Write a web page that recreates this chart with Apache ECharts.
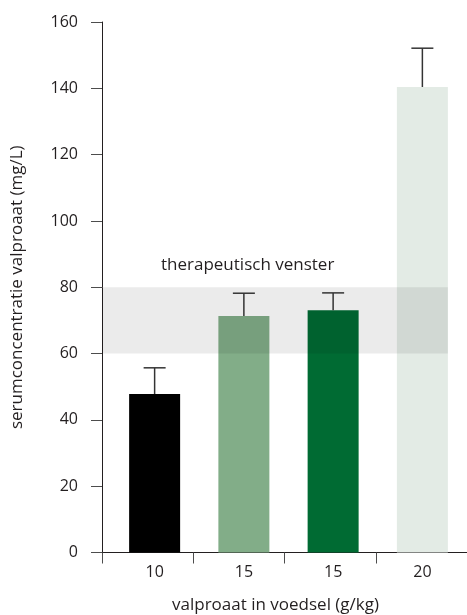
<!DOCTYPE html>
<html>
<head>
<meta charset="utf-8">
<script src="https://cdn.jsdelivr.net/npm/echarts@6/dist/echarts.min.js"></script>
<style>
  html, body { margin: 0; padding: 0; background: #ffffff; }
  #chart { width: 467px; height: 615px; }
</style>
</head>
<body>
<div id="chart"></div>
<script>
// Valproate dose groups (g/kg in food) and serum concentrations (mg/L)
const categories = ['10', '15', '15', '20'];
const meanValues = [47.8, 71.3, 73.1, 140.4];
const upperValues = [55.7, 78.2, 78.3, 152.1];
const barColors = ['#000000', '#82ad88', '#006b33', '#e3ebe5'];

// Therapeutic window (mg/L)
const windowLow = 60;
const windowHigh = 80;
const windowLabel = 'therapeutisch venster';

// Value axis
const yMin = 0;
const yMax = 160;
const yStep = 20;

const xAxisName = 'valproaat in voedsel (g/kg)';
const yAxisName = 'serumconcentratie valproaat (mg/L)';

// Layout
const AXIS_LEFT = 102;
const BARS_LEFT = 110;
const TOP = 22;
const BOTTOM = 62.5;
const BAR_WIDTH = 51;
const CAP_HALF = 11;

const textColor = '#231f20';
const fontFamily = "'Open Sans', sans-serif";

const chart = echarts.init(document.getElementById('chart'), null, { renderer: 'canvas' });

function renderBand(params, api) {
  const yTop = api.coord([0, api.value(2)])[1];
  const yBottom = api.coord([0, api.value(1)])[1];
  const xRight = api.coord([api.value(0), 0])[0] + BAR_WIDTH / 2;
  const xLeft = AXIS_LEFT;
  return {
    type: 'group',
    children: [
      {
        type: 'rect',
        shape: { x: xLeft, y: yTop, width: xRight - xLeft, height: yBottom - yTop },
        style: { fill: 'rgba(0,0,0,0.078)' }
      },
      {
        type: 'text',
        x: xLeft + 59,
        y: yTop - 22,
        style: {
          text: windowLabel,
          fill: textColor,
          fontSize: 17,
          fontFamily: fontFamily,
          align: 'left',
          verticalAlign: 'middle'
        }
      }
    ]
  };
}

function renderErrorBar(params, api) {
  const idx = api.value(0);
  const base = api.coord([idx, api.value(1)]);
  const top = api.coord([idx, api.value(2)]);
  const style = { stroke: '#333333', lineWidth: 1.5 };
  return {
    type: 'group',
    children: [
      { type: 'line', shape: { x1: base[0], y1: base[1], x2: top[0], y2: top[1] }, style: style },
      { type: 'line', shape: { x1: top[0] - CAP_HALF, y1: top[1], x2: top[0] + CAP_HALF, y2: top[1] }, style: style }
    ]
  };
}

const option = {
  animation: false,
  backgroundColor: '#ffffff',
  grid: [
    { left: AXIS_LEFT, right: 0, top: TOP, bottom: BOTTOM, containLabel: false, outerBoundsMode: 'none' },
    { left: BARS_LEFT, right: 0, top: TOP, bottom: BOTTOM, containLabel: false, outerBoundsMode: 'none' }
  ],
  xAxis: [
    {
      gridIndex: 0,
      type: 'category',
      data: categories,
      axisLine: { show: true, lineStyle: { color: textColor, width: 1 } },
      axisTick: { show: true, length: 11, lineStyle: { color: '#4d4d4d', width: 1 } },
      axisLabel: { show: false },
      splitLine: { show: false },
      name: xAxisName,
      nameLocation: 'middle',
      nameGap: 44,
      nameTextStyle: {
        color: textColor,
        fontSize: 17,
        fontFamily: fontFamily,
        padding: [0, 18, 0, 0]
      }
    },
    {
      gridIndex: 1,
      type: 'category',
      data: categories,
      axisLine: { show: false },
      axisTick: { show: false },
      splitLine: { show: false },
      axisLabel: {
        margin: 12,
        color: textColor,
        fontSize: 16,
        fontFamily: fontFamily
      }
    }
  ],
  yAxis: [
    {
      gridIndex: 0,
      type: 'value',
      min: yMin,
      max: yMax,
      interval: yStep,
      splitLine: { show: false },
      axisLine: { show: true, lineStyle: { color: textColor, width: 1 } },
      axisTick: { show: true, length: 11, lineStyle: { color: '#4d4d4d', width: 1 } },
      axisLabel: {
        margin: 24,
        color: textColor,
        fontSize: 16,
        fontFamily: fontFamily
      },
      name: yAxisName,
      nameLocation: 'middle',
      nameRotate: 90,
      nameGap: 76,
      nameTextStyle: {
        color: textColor,
        fontSize: 17,
        fontFamily: fontFamily
      }
    },
    {
      gridIndex: 1,
      type: 'value',
      min: yMin,
      max: yMax,
      interval: yStep,
      show: false
    }
  ],
  series: [
    {
      type: 'bar',
      xAxisIndex: 1,
      yAxisIndex: 1,
      barWidth: BAR_WIDTH,
      z: 2,
      data: meanValues.map((v, i) => ({ value: v, itemStyle: { color: barColors[i] } }))
    },
    {
      type: 'custom',
      xAxisIndex: 1,
      yAxisIndex: 1,
      z: 3,
      silent: true,
      encode: { x: 0, y: [1, 2] },
      data: [[categories.length - 1, windowLow, windowHigh]],
      renderItem: renderBand
    },
    {
      type: 'custom',
      xAxisIndex: 1,
      yAxisIndex: 1,
      z: 4,
      silent: true,
      encode: { x: 0, y: [1, 2] },
      data: categories.map((c, i) => [i, meanValues[i], upperValues[i]]),
      renderItem: renderErrorBar
    }
  ]
};

chart.setOption(option);
</script>
</body>
</html>
